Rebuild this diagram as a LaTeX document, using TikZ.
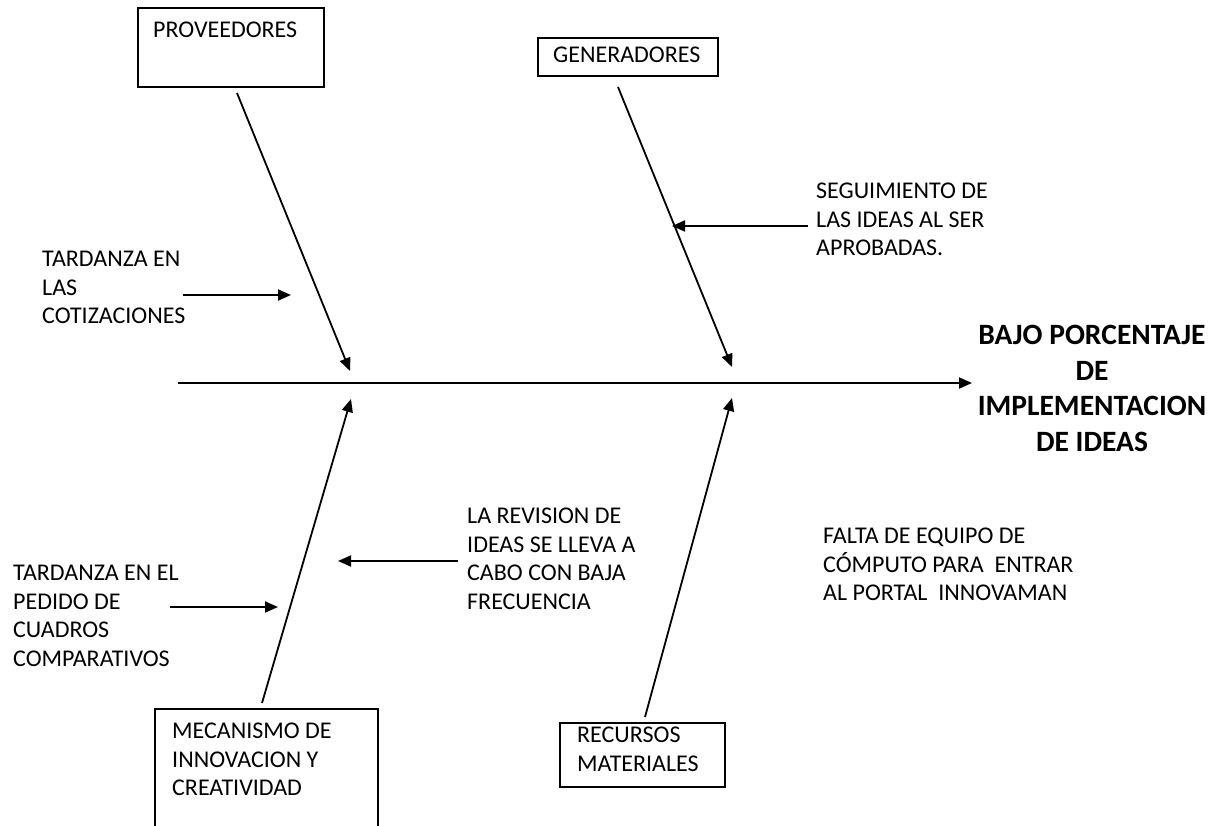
\documentclass[tikz,border=0pt]{standalone}
\usepackage{fontspec}
\setmainfont{Carlito}
\usetikzlibrary{arrows.meta}
\begin{document}
\begin{tikzpicture}[x=1pt,y=-1pt,
  arr/.style={line width=1.8pt,-{Triangle[length=13pt,width=11pt]}},
  catbox/.style={draw,line width=1.8pt,inner sep=0pt,anchor=north west},
  lbl/.style={font=\fontsize{24}{28.5}\selectfont,inner sep=0pt,anchor=north west,align=left},
  effect/.style={font=\fontsize{29.5}{35.5}\selectfont\bfseries,inner sep=0pt,anchor=north,align=center}]
\useasboundingbox (0,0) rectangle (1220,826);
\clip (0,0) rectangle (1220,826);

% category boxes
\node[catbox,minimum width=186pt,minimum height=79pt] (prov) at (137,7) {};
\node[catbox,minimum width=180pt,minimum height=38pt] (gen) at (537,37) {};
\node[catbox,minimum width=223pt,minimum height=150pt] (mec) at (154,708) {};
\node[catbox,minimum width=165pt,minimum height=64pt] (rec) at (559,722) {};

% box captions
\node[lbl] (provt) at (153,22) {PROVEEDORES};
\node[lbl] (gent) at (553,47) {GENERADORES};
\node[lbl] (mect) at (172,723) {MECANISMO DE\\INNOVACION Y\\CREATIVIDAD};
\node[lbl] (rect) at (577,727) {RECURSOS\\MATERIALES};

% causes
\node[lbl] (tar1) at (42,251) {TARDANZA EN\\LAS\\COTIZACIONES};
\node[lbl] (seg) at (816,183) {SEGUIMIENTO DE\\LAS IDEAS AL SER\\APROBADAS.};
\node[lbl] (rev) at (467,508) {LA REVISION DE\\IDEAS SE LLEVA A\\CABO CON BAJA\\FRECUENCIA};
\node[lbl] (tar2) at (13,565) {TARDANZA EN EL\\PEDIDO DE\\CUADROS\\COMPARATIVOS};
\node[lbl] (falta) at (823,528) {FALTA DE EQUIPO DE\\CÓMPUTO PARA\ \ ENTRAR\\AL PORTAL\ \ INNOVAMAN};

% effect
\node[effect] (eff) at (1092,325) {BAJO PORCENTAJE\\DE\\IMPLEMENTACION\\DE IDEAS};

% spine
\coordinate (sL) at (178,383);
\coordinate (sR) at (972,383);
\draw[arr] (sL) -- (sR);

% main bones
\coordinate (p1) at (237,93);   \coordinate (p2) at (350,371);
\coordinate (g1) at (618,87);   \coordinate (g2) at (732,367);
\coordinate (m1) at (262,703);  \coordinate (m2) at (351,399);
\coordinate (r1) at (645,717);  \coordinate (r2) at (732,398);
\draw[arr] (p1) -- (p2);
\draw[arr] (g1) -- (g2);
\draw[arr] (m1) -- (m2);
\draw[arr] (r1) -- (r2);

% cause arrows
\coordinate (t1a) at (183,295); \coordinate (t1b) at (291,295);
\coordinate (s1a) at (808,226); \coordinate (s1b) at (672,226);
\coordinate (v1a) at (458,561); \coordinate (v1b) at (338,561);
\coordinate (t2a) at (170,607); \coordinate (t2b) at (278,607);
\draw[arr] (t1a) -- (t1b);
\draw[arr] (s1a) -- (s1b);
\draw[arr] (v1a) -- (v1b);
\draw[arr] (t2a) -- (t2b);
\end{tikzpicture}
\end{document}
